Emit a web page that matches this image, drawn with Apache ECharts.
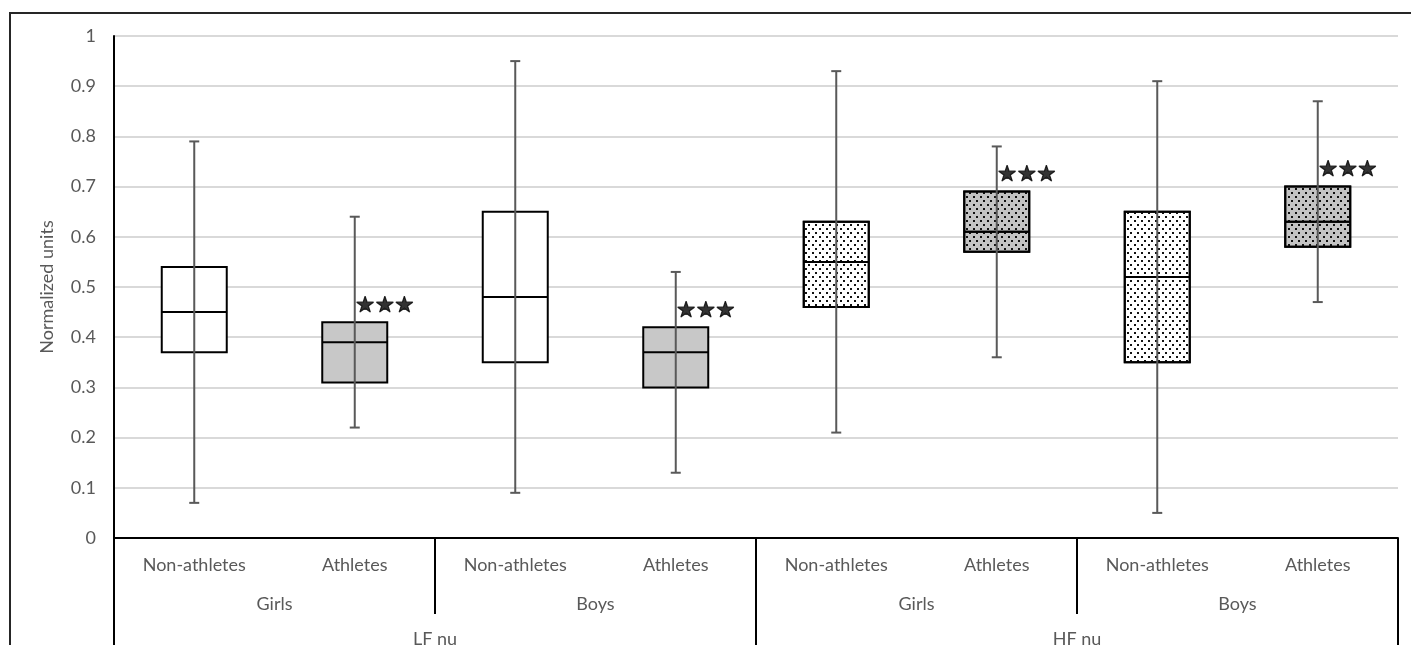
<!DOCTYPE html>
<html><head><meta charset="utf-8">
<script src="https://cdn.jsdelivr.net/npm/echarts@6/dist/echarts.min.js"></script>
<style>html,body{margin:0;padding:0;background:#fff}#c{width:1411px;height:645px}</style>
</head><body><div id="c"></div>
<script>
// ---- data ----
const groupLabels = ['Non-athletes','Athletes','Non-athletes','Athletes','Non-athletes','Athletes','Non-athletes','Athletes'];
const sexLabels = ['Girls','Boys','Girls','Boys'];
const bandLabels = ['LF nu','HF nu'];
const mins    = [0.07, 0.22, 0.09, 0.13, 0.21, 0.36, 0.05, 0.47];
const q1s     = [0.37, 0.31, 0.35, 0.30, 0.46, 0.57, 0.35, 0.58];
const medians = [0.45, 0.39, 0.48, 0.37, 0.55, 0.61, 0.52, 0.63];
const q3s     = [0.54, 0.43, 0.65, 0.42, 0.63, 0.69, 0.65, 0.70];
const maxs    = [0.79, 0.64, 0.95, 0.53, 0.93, 0.78, 0.91, 0.87];
const significant = [false, true, false, true, false, true, false, true];
const yAxisName = 'Normalized units';

// ---- styles ----
const FONT = 'Lato';
const FS = 18;
const TXT = '#595959';
const dots = {
  symbol: 'rect', symbolSize: 1,
  dashArrayX: [[1.8, 4.2], [0, 3, 1.8, 1.2]],
  dashArrayY: [1.8, 1.2],
  color: '#111'
};

const boxData = groupLabels.map((g, i) => {
  const athlete = g === 'Athletes';
  const hf = Math.floor(i / 4) === 1;
  const item = {
    value: [q1s[i], q1s[i], medians[i], q3s[i], q3s[i]],
    itemStyle: { color: athlete ? (hf ? '#c4c4c4' : '#c8c8c8') : '#ffffff', borderColor: '#000', borderWidth: 2 }
  };
  if (hf) item.itemStyle.decal = Object.assign({}, dots);
  return item;
});
const whiskerData = groupLabels.map((g, i) => [i, mins[i], maxs[i]]);
const starData = groupLabels.map((g, i) => significant[i] ? [i, q3s[i]] : null).filter(d => d);

const chart = echarts.init(document.getElementById('c'), null, { renderer: 'canvas' });
chart.setOption({
  animation: false,
  backgroundColor: '#fff',
  graphic: [{
    type: 'rect', z: -10, silent: true,
    shape: { x: 10, y: 13, width: 1430, height: 700 },
    style: { fill: 'none', stroke: '#262626', lineWidth: 2 }
  }],
  grid: { left: 114, right: 13, top: 36, bottom: 107, containLabel: false, outerBoundsMode: 'none' },
  xAxis: [
    {
      type: 'category', data: groupLabels, position: 'bottom',
      axisLine: { show: true, lineStyle: { color: '#000', width: 2 } },
      axisTick: { show: false },
      axisLabel: { color: TXT, fontSize: FS, fontFamily: FONT, margin: 18, interval: 0 },
      splitLine: { show: false }
    },
    {
      type: 'category', data: sexLabels, position: 'bottom', offset: 0,
      axisLine: { show: false },
      axisTick: { show: true, length: 76, interval: 0, alignWithLabel: false, lineStyle: { color: '#000', width: 2 } },
      axisLabel: { color: TXT, fontSize: FS, fontFamily: FONT, margin: 57, interval: 0 },
      splitLine: { show: false }
    },
    {
      type: 'category', data: bandLabels, position: 'bottom', offset: 0,
      axisLine: { show: false },
      axisTick: { show: true, length: 130, interval: 0, alignWithLabel: false, lineStyle: { color: '#000', width: 2 } },
      axisLabel: { color: TXT, fontSize: FS, fontFamily: FONT, margin: 92, interval: 0 },
      splitLine: { show: false }
    }
  ],
  yAxis: {
    type: 'value', min: 0, max: 1, interval: 0.1,
    name: yAxisName, nameLocation: 'middle', nameGap: 58, nameRotate: 90,
    nameTextStyle: { color: TXT, fontSize: FS, fontFamily: FONT },
    axisLine: { show: true, lineStyle: { color: '#000', width: 2 } },
    axisTick: { show: false },
    axisLabel: { color: TXT, fontSize: FS, fontFamily: FONT, margin: 18 },
    splitLine: { show: true, lineStyle: { color: '#d9d9d9', width: 2 } }
  },
  series: [
    {
      type: 'boxplot', xAxisIndex: 0, yAxisIndex: 0,
      boxWidth: [65, 65],
      data: boxData,
      emphasis: { disabled: true },
      z: 2
    },
    {
      type: 'custom', xAxisIndex: 0, yAxisIndex: 0,
      data: whiskerData,
      z: 3, silent: true,
      renderItem: function (params, api) {
        const lo = api.coord([api.value(0), api.value(1)]);
        const hi = api.coord([api.value(0), api.value(2)]);
        const st = { stroke: '#595959', lineWidth: 2 };
        const cap = 5;
        return {
          type: 'group',
          children: [
            { type: 'line', shape: { x1: lo[0], y1: lo[1], x2: hi[0], y2: hi[1] }, style: st },
            { type: 'line', shape: { x1: lo[0] - cap, y1: lo[1], x2: lo[0] + cap, y2: lo[1] }, style: st },
            { type: 'line', shape: { x1: hi[0] - cap, y1: hi[1], x2: hi[0] + cap, y2: hi[1] }, style: st }
          ]
        };
      }
    },
    {
      type: 'scatter', xAxisIndex: 0, yAxisIndex: 0,
      data: starData, symbolSize: 1,
      itemStyle: { color: 'rgba(0,0,0,0)' },
      silent: true, z: 4,
      label: {
        show: true, position: 'inside', formatter: '★★★',
        offset: [30, -16], color: '#000', fontSize: 22, fontFamily: 'DejaVu Sans',
        textBorderColor: '#000', textBorderWidth: 1.2
      }
    }
  ]
});
</script>
</body></html>
